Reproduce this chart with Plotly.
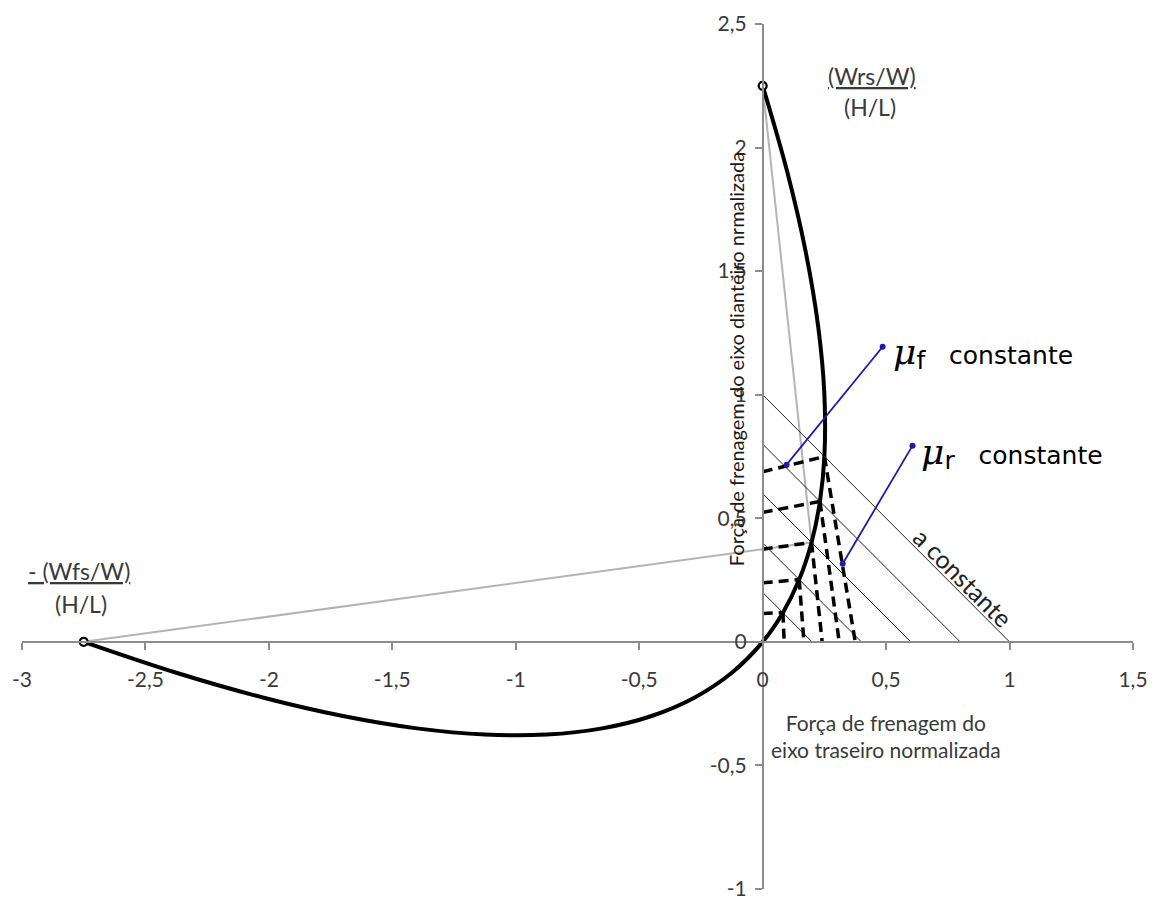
import plotly.graph_objects as go

# ---- data ----
curve_x = [-2.75, -2.375, -2.025, -1.70, -1.40, -1.125, -0.875, -0.65, -0.45, -0.275, -0.125,
           0.0, 0.082, 0.148, 0.198, 0.232, 0.25, 0.25, 0.225, 0.175, 0.10, 0.0]
curve_y = [0.0, -0.125, -0.225, -0.30, -0.35, -0.375, -0.375, -0.35, -0.30, -0.225, -0.125,
           0.0, 0.118, 0.252, 0.402, 0.568, 0.75, 1.0, 1.275, 1.575, 1.90, 2.25]

a_levels = [0.2, 0.4, 0.6, 0.8, 1.0]             # "a constante" lines (x + y = a)
pts_x = [0.082, 0.148, 0.198, 0.232, 0.25]         # curve points on each a-line
pts_y = [0.118, 0.252, 0.402, 0.568, 0.75]
muf_y0 = [0.115, 0.239, 0.375, 0.524, 0.688]       # mu_f dashed lines meet y axis
mur_x0 = [0.087, 0.167, 0.241, 0.310, 0.375]       # mu_r dashed lines meet x axis

end_front = (-2.75, 0.0)    # -(Wfs/W)/(H/L)
end_rear = (0.0, 2.25)      # (Wrs/W)/(H/L)
gray_target = (0.198, 0.402)

muf_pointer_x = [0.486, 0.097]
muf_pointer_y = [1.194, 0.717]
mur_pointer_x = [0.607, 0.324]
mur_pointer_y = [0.794, 0.316]

x_ticks = [-3, -2.5, -2, -1.5, -1, -0.5, 0, 0.5, 1, 1.5]
x_tick_text = ["-3", "-2,5", "-2", "-1,5", "-1", "-0,5", "0", "0,5", "1", "1,5"]
y_ticks = [-1, -0.5, 0, 0.5, 1, 1.5, 2, 2.5]
y_tick_text = ["-1", "-0,5", "0", "0,5", "1", "1,5", "2", "2,5"]

AXIS = "#8c8c8c"
TXT = "#3a3a3a"
FONT = "Lato"

fig = go.Figure()

# gray construction lines
fig.add_trace(go.Scatter(x=[end_front[0], gray_target[0]], y=[end_front[1], gray_target[1]],
                         mode="lines", line=dict(color="#b4b4b4", width=2), hoverinfo="skip"))
fig.add_trace(go.Scatter(x=[end_rear[0], gray_target[0]], y=[end_rear[1], gray_target[1]],
                         mode="lines", line=dict(color="#b4b4b4", width=2), hoverinfo="skip"))

# constant deceleration lines
for a in a_levels:
    fig.add_trace(go.Scatter(x=[0, a], y=[a, 0], mode="lines",
                             line=dict(color="#202020", width=1), hoverinfo="skip"))

# mu_f dashed lines
for px, py, y0 in zip(pts_x, pts_y, muf_y0):
    fig.add_trace(go.Scatter(x=[0, px], y=[y0, py], mode="lines",
                             line=dict(color="black", width=3.5, dash="10px,6px"), hoverinfo="skip"))
# mu_r dashed lines
for px, py, x0 in zip(pts_x, pts_y, mur_x0):
    fig.add_trace(go.Scatter(x=[px, x0], y=[py, 0], mode="lines",
                             line=dict(color="black", width=3.5, dash="10px,6px"), hoverinfo="skip"))

# ideal braking curve
fig.add_trace(go.Scatter(x=curve_x, y=curve_y, mode="lines", line_shape="spline",
                         line=dict(color="black", width=4), hoverinfo="skip"))

# end markers
fig.add_trace(go.Scatter(x=[end_front[0], end_rear[0]], y=[end_front[1], end_rear[1]],
                         mode="markers",
                         marker=dict(symbol="circle", size=8, color="white",
                                     line=dict(color="black", width=2.2)), hoverinfo="skip"))

# blue pointers
for xs, ys in [(muf_pointer_x, muf_pointer_y), (mur_pointer_x, mur_pointer_y)]:
    fig.add_trace(go.Scatter(x=xs, y=ys, mode="lines+markers",
                             line=dict(color="#1c1ca8", width=1.8),
                             marker=dict(color="#1c1ca8", size=6), hoverinfo="skip"))

ann = []
def add_text(x, y, text, size=22, color=TXT, family=FONT, xanchor="center", angle=0):
    ann.append(dict(x=x, y=y, xref="x", yref="y", text=text, showarrow=False,
                    xanchor=xanchor, yanchor="middle", textangle=angle,
                    font=dict(family=family, size=size, color=color)))

add_text(0.441, 2.29, "<u>(Wrs/W)</u>", size=23)
add_text(0.433, 2.163, "(H/L)", size=23)
add_text(-2.77, 0.285, "<u>- (Wfs/W)</u>", size=23)
add_text(-2.76, 0.155, "(H/L)", size=23)
mu = "<span style='font-family:DejaVu Serif;font-size:36px'><i>μ</i></span>"
def mu_label(sub):
    return (mu + "<sub><span style='font-size:25px'>" + sub + "</span></sub>"
            + "   constante")
add_text(0.52, 1.17, mu_label("f"), size=25, color="black",
         family="DejaVu Sans", xanchor="left")
add_text(0.633, 0.765, mu_label("r"), size=25, color="black",
         family="DejaVu Sans", xanchor="left")
add_text(0.815, 0.26, "a constante", size=25, color="#222222", angle=45)
add_text(-0.11, 1.142, "Força de frenagem do eixo dianteiro nrmalizada", size=20,
         color="#1a1a1a", angle=-90)
add_text(0.50, -0.38, "Força de frenagem do<br>eixo traseiro normalizada", size=21)

axis_common = dict(showline=True, linecolor=AXIS, linewidth=1.5, showgrid=False,
                   zeroline=False, ticks="outside", ticklen=7, tickcolor=AXIS,
                   tickwidth=1.5, automargin=False, ticklabeloverflow="allow",
                   tickfont=dict(family=FONT, size=21, color=TXT))

fig.update_layout(
    width=1161, height=898,
    margin=dict(l=22, r=28, t=24, b=9, autoexpand=False),
    paper_bgcolor="white", plot_bgcolor="white",
    showlegend=False,
    annotations=ann,
    xaxis=dict(range=[-3, 1.5], anchor="free", position=1/3.5,
               tickvals=x_ticks, ticktext=x_tick_text, ticklabelstandoff=12,
               **axis_common),
    yaxis=dict(range=[-1, 2.5], anchor="free", position=3/4.5,
               tickvals=y_ticks, ticktext=y_tick_text, ticklabelstandoff=4,
               **axis_common),
)

fig.write_html("out.html", config={"displayModeBar": False},
               post_script="document.body.style.margin='0px';document.body.style.overflow='hidden';")
